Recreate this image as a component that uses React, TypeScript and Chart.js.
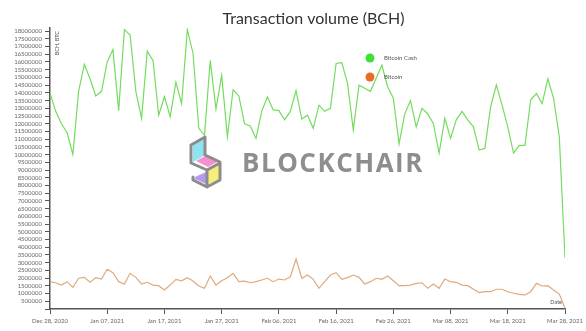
import { useEffect, useRef } from "react";
import { Chart, registerables } from "chart.js";

Chart.register(...registerables);

const chartTitle = "Transaction volume (BCH)";
const seriesNames = ["Bitcoin Cash", "Bitcoin"];
const tickLabels = [
  "Dec 28, 2020", "Jan 07, 2021", "Jan 17, 2021", "Jan 27, 2021", "Feb 06, 2021",
  "Feb 16, 2021", "Feb 26, 2021", "Mar 08, 2021", "Mar 18, 2021", "Mar 28, 2021",
];
const yTickStep = 500000;
const yTickMax = 18000000;

// one value per day, Dec 28, 2020 .. Mar 28, 2021
const bitcoinCash = [
  14000000, 12800000, 12000000, 11400000, 10000000, 14100000, 15850000, 14900000, 13800000, 14100000,
  16000000, 16800000, 12850000, 18100000, 17750000, 14100000, 12350000, 16700000, 16100000, 12550000,
  13750000, 12450000, 14700000, 13300000, 18100000, 16550000, 11700000, 11250000, 16100000, 12950000,
  15150000, 11150000, 14200000, 13800000, 12000000, 11850000, 11050000, 12800000, 13750000, 12900000,
  12850000, 12250000, 12800000, 14150000, 12300000, 12550000, 11700000, 13200000, 12800000, 13000000,
  15900000, 15950000, 14600000, 11600000, 14500000, 14300000, 14100000, 14950000, 15800000, 14400000,
  13650000, 10700000, 12650000, 13500000, 11800000, 13000000, 12650000, 12000000, 10100000, 12350000,
  11050000, 12250000, 12800000, 12250000, 11800000, 10300000, 10400000, 13100000, 14500000, 13200000,
  11800000, 10100000, 10600000, 10600000, 13550000, 13950000, 13300000, 14900000, 13650000, 11150000,
  3300000,
];

const bitcoin = [
  1770000, 1700000, 1550000, 1770000, 1400000, 1990000, 2050000, 1730000, 2030000, 1940000,
  2570000, 2350000, 1770000, 1620000, 2310000, 2050000, 1620000, 1730000, 1550000, 1510000,
  1230000, 1550000, 1920000, 1830000, 2030000, 1810000, 1490000, 1340000, 2140000, 1550000,
  1830000, 2030000, 2310000, 1770000, 1810000, 1700000, 1770000, 1880000, 1990000, 1770000,
  1940000, 1880000, 2090000, 3240000, 1990000, 2200000, 1920000, 1340000, 1770000, 2200000,
  2350000, 1920000, 2030000, 2200000, 2050000, 1620000, 1770000, 1990000, 1920000, 2140000,
  1830000, 1510000, 1510000, 1550000, 1660000, 1700000, 1340000, 1620000, 1340000, 1940000,
  1770000, 1730000, 1550000, 1510000, 1280000, 1060000, 1120000, 1120000, 1280000, 1280000,
  1120000, 1020000, 950000, 910000, 1120000, 1660000, 1490000, 1510000, 1230000, 970000,
  50000,
];

const lineColors = ["#74dc5e", "#deaa7e"];
const markerColors = ["#3fe03a", "#ea6a26"];
const FONT = "Lato, 'Open Sans', sans-serif";

const decorPlugin = {
  id: "decor",
  afterDatasetsDraw(chart: any) {
    const { ctx, chartArea } = chart;
    const { left, right, top, bottom } = chartArea;
    ctx.save();
    // watermark logo
    const ox = left + 138;
    const oy = top + 107;
    ctx.lineJoin = "round";
    ctx.lineCap = "round";
    const poly = (pts: number[][], fill: string) => {
      ctx.beginPath();
      pts.forEach((p, i) => (i === 0 ? ctx.moveTo(ox + p[0], oy + p[1]) : ctx.lineTo(ox + p[0], oy + p[1])));
      ctx.closePath();
      ctx.fillStyle = fill;
      ctx.fill();
    };
    poly([[5, 10], [17, 3], [17, 20], [5, 27]], "#8fe3ef");
    poly([[8, 26], [19, 20], [31, 26], [20, 32]], "#f58fd0");
    poly([[19, 34], [31, 28], [31, 44], [19, 50]], "#f6ef7a");
    poly([[7, 42], [18, 37], [18, 49], [7, 44]], "#b79af0");
    ctx.strokeStyle = "#8c8c8c";
    ctx.lineWidth = 3;
    ctx.beginPath();
    ctx.moveTo(ox + 17, oy + 20);
    ctx.lineTo(ox + 17, oy + 2);
    ctx.lineTo(ox + 3, oy + 10);
    ctx.lineTo(ox + 3, oy + 28);
    ctx.lineTo(ox + 19, oy + 35);
    ctx.lineTo(ox + 19, oy + 52);
    ctx.lineTo(ox + 5, oy + 45);
    ctx.lineTo(ox + 5, oy + 42);
    ctx.moveTo(ox + 19, oy + 35);
    ctx.lineTo(ox + 32, oy + 28);
    ctx.lineTo(ox + 32, oy + 45);
    ctx.lineTo(ox + 19, oy + 52);
    ctx.moveTo(ox + 17, oy + 20);
    ctx.lineTo(ox + 32, oy + 27);
    ctx.stroke();
    // watermark text
    ctx.fillStyle = "#8e8e8e";
    ctx.font = `bold 26px 'Open Sans', Lato, sans-serif`;
    (ctx as any).letterSpacing = "1.5px";
    ctx.textAlign = "left";
    ctx.textBaseline = "alphabetic";
    ctx.fillText("BLOCKCHAIR", left + 192, top + 144);
    (ctx as any).letterSpacing = "0px";

    // title
    ctx.fillStyle = "#333333";
    ctx.font = `16px ${FONT}`;
    ctx.textAlign = "center";
    ctx.fillText(chartTitle, (left + right) / 2 + 6, 24);

    // legend
    ctx.font = `6px ${FONT}`;
    seriesNames.forEach((name, i) => {
      const cy = top + 30 + i * 19;
      ctx.beginPath();
      ctx.arc(left + 320, cy, 4.5, 0, Math.PI * 2);
      ctx.fillStyle = markerColors[i];
      ctx.fill();
      ctx.fillStyle = "#555555";
      ctx.textAlign = "left";
      ctx.textBaseline = "middle";
      ctx.fillText(name, left + 334, cy);
    });

    // axis titles
    ctx.fillStyle = "#555555";
    ctx.font = `5.5px ${FONT}`;
    ctx.textAlign = "right";
    ctx.textBaseline = "alphabetic";
    ctx.fillText("Date", right - 3, bottom - 5);
    ctx.save();
    ctx.translate(left + 9, top + 3);
    ctx.rotate(-Math.PI / 2);
    ctx.textAlign = "right";
    ctx.fillText("BCH, BTC", 0, 0);
    ctx.restore();
    ctx.restore();
  },
};

export default function App() {
  const canvasRef = useRef<HTMLCanvasElement | null>(null);

  useEffect(() => {
    document.body.style.margin = "0";
    const canvas = canvasRef.current;
    if (!canvas) return;
    const chart = new Chart(canvas, {
      type: "line",
      data: {
        datasets: [
          {
            label: seriesNames[0],
            data: bitcoinCash.map((v, i) => ({ x: i, y: v })),
            borderColor: lineColors[0],
            borderWidth: 1.2,
            pointRadius: 0,
            tension: 0,
            fill: false,
          },
          {
            label: seriesNames[1],
            data: bitcoin.map((v, i) => ({ x: i, y: v })),
            borderColor: lineColors[1],
            borderWidth: 1.2,
            pointRadius: 0,
            tension: 0,
            fill: false,
          },
        ],
      },
      options: {
        animation: false,
        responsive: false,
        devicePixelRatio: 1,
        layout: { padding: { top: 28, right: 19, left: 0, bottom: 0 } },
        plugins: {
          legend: { display: false },
          title: { display: false },
          tooltip: { enabled: false },
        },
        scales: {
          x: {
            type: "linear",
            min: 0,
            max: (tickLabels.length - 1) * 10,
            afterFit: (scale: any) => {
              scale.height = 22;
            },
            grid: {
              drawOnChartArea: false,
              drawTicks: true,
              tickLength: 5,
              color: "#555555",
              lineWidth: 1,
            },
            border: { display: true, color: "#555555", width: 1.5 },
            ticks: {
              stepSize: 10,
              autoSkip: false,
              maxRotation: 0,
              minRotation: 0,
              padding: 3,
              color: "#666666",
              font: { family: FONT, size: 6 },
              callback: (v: any) => tickLabels[Math.round(Number(v) / 10)] ?? "",
            },
          },
          y: {
            type: "linear",
            min: 0,
            max: 18200000,
            afterFit: (scale: any) => {
              scale.width = 50;
            },
            afterBuildTicks: (scale: any) => {
              const t: any[] = [];
              for (let v = 0; v <= yTickMax; v += yTickStep) t.push({ value: v });
              scale.ticks = t;
            },
            grid: {
              drawOnChartArea: false,
              drawTicks: true,
              tickLength: 5,
              color: "#555555",
              lineWidth: 1,
            },
            border: { display: true, color: "#555555", width: 1.5 },
            ticks: {
              autoSkip: false,
              padding: 3,
              color: "#666666",
              font: { family: FONT, size: 6 },
              callback: (v: any) => (Number(v) === 0 ? "" : String(v)),
            },
          },
        },
      },
      plugins: [decorPlugin],
    });
    return () => chart.destroy();
  }, []);

  return (
    <div style={{ width: 586, height: 331, background: "#ffffff" }}>
      <canvas ref={canvasRef} width={586} height={331} style={{ display: "block" }} />
    </div>
  );
}
